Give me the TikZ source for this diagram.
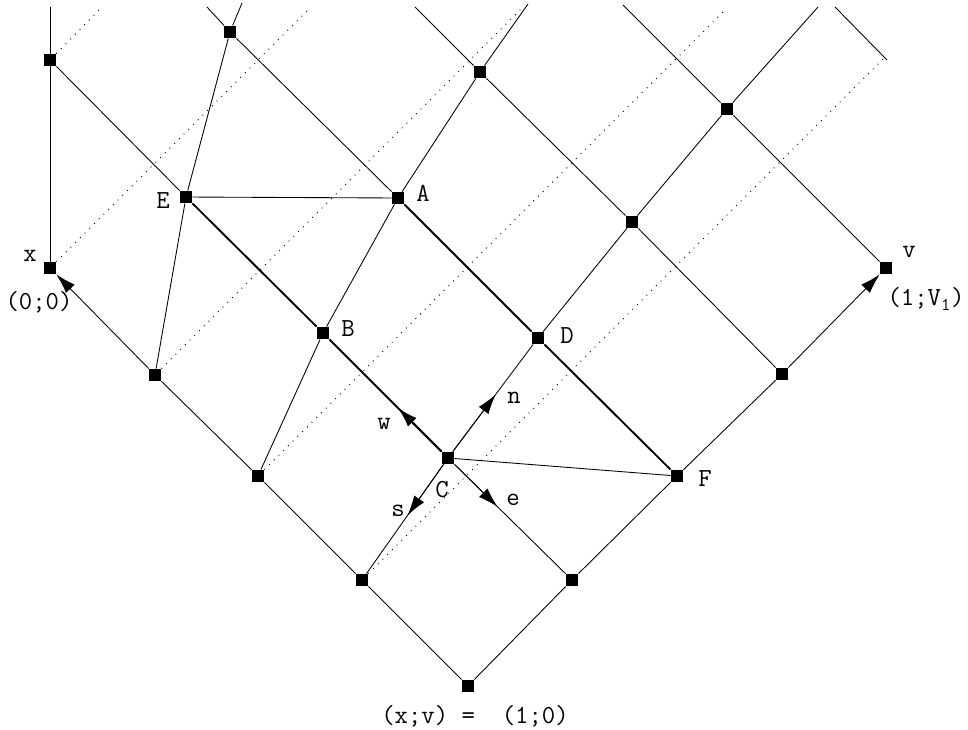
\documentclass[tikz,border=0pt]{standalone}
\usepackage{fontspec}
\usetikzlibrary{arrows.meta,calc}
\begin{document}
\begin{tikzpicture}[x=0.75pt,y=-0.75pt,line width=0.65pt,
  pt/.style={rectangle,fill=black,draw=none,inner sep=0pt,minimum size=9pt},
  lbl/.style={font=\ttfamily\fontsize{19.5}{22}\selectfont,inner sep=0pt},
  boldline/.style={line width=1.4pt},
  dotline/.style={line width=0.7pt,dash pattern=on 0.7pt off 4.3pt},
  arr/.style={-{Latex[length=15pt,width=9pt]}},
]
\useasboundingbox (0,0) rectangle (968,729);

% grid points
\node[pt] (b0) at (468,686) {};
\node[pt] (l1) at (362,580) {};
\node[pt] (l2) at (258,476) {};
\node[pt] (l3) at (155,375) {};
\node[pt] (X)  at (50,268) {};
\node[pt] (r1) at (572,580) {};
\node[pt] (F)  at (677,476) {};
\node[pt] (r3) at (782,374) {};
\node[pt] (V)  at (886,268) {};
\node[pt] (C)  at (448,458) {};
\node[pt] (B)  at (323,333) {};
\node[pt] (E)  at (186,197) {};
\node[pt] (X2) at (50,60) {};
\node[pt] (D)  at (538,338) {};
\node[pt] (A)  at (398,198) {};
\node[pt] (T1) at (230,32) {};
\node[pt] (G)  at (632,222) {};
\node[pt] (H)  at (480,72) {};
\node[pt] (K)  at (727,109) {};

% free ends at the top
\coordinate (xtop) at (50,7);
\coordinate (t1a) at (207,7);
\coordinate (t1b) at (242,3);
\coordinate (ha) at (415,7);
\coordinate (hb) at (528,4);
\coordinate (ka) at (623,5);
\coordinate (kb) at (818,7);
\coordinate (s6a) at (835,7);
\coordinate (s6b) at (887,60);
\coordinate (d1) at (102,7);
\coordinate (d2) at (308,10);
\coordinate (d3) at (521,9);
\coordinate (d4) at (725,10);
\coordinate (d5) at (884,58);

% dotted lines
\draw[dotline] (X2) -- (d1);
\draw[dotline] (X) -- (d2);
\draw[dotline] (l3) -- (d3);
\draw[dotline] (l2) -- (d4);
\draw[dotline] (l1) -- (d5);

% up-left lines
\draw (b0) -- (l1) -- (l2) -- (l3);
\draw[arr] (l3) -- (X);
\draw (r1) -- (C);
\draw[boldline] (C) -- (B) -- (E);
\draw (E) -- (X2);
\draw[boldline] (F) -- (D) -- (A);
\draw (A) -- (T1) -- (t1a);
\draw (r3) -- (G) -- (H) -- (ha);
\draw (V) -- (K) -- (ka);
\draw (s6a) -- (s6b);

% up-right lines
\draw (b0) -- (r1) -- (F) -- (r3);
\draw[arr] (r3) -- (V);
\draw (l1) -- (C) -- (D) -- (G) -- (K) -- (kb);
\draw (l2) -- (B) -- (A) -- (H) -- (hb);
\draw (l3) -- (E) -- (T1) -- (t1b);
\draw (X) -- (X2) -- (xtop);

% cross lines
\draw (E) -- (A);
\draw (C) -- (F);

% arrows at C
\draw[arr] (C) -- ($(C)!0.53!(D)$);
\draw[arr,boldline] (C) -- ($(C)!0.40!(B)$);
\draw[arr] (C) -- ($(C)!0.47!(l1)$);
\draw[arr] (C) -- ($(C)!0.40!(r1)$);

% labels
\node[lbl] (lx)  at (30,256) {x};
\node[lbl] (l00) at (39,302) {(0;0)};
\node[lbl] (lE)  at (163,201) {E};
\node[lbl] (lA)  at (423,193) {A};
\node[lbl] (lB)  at (348,329) {B};
\node[lbl] (lD)  at (567,336) {D};
\node[lbl] (lC)  at (442,490) {C};
\node[lbl] (lF)  at (705,479) {F};
\node[lbl] (ln)  at (514,398) {n};
\node[lbl] (lw)  at (384,424) {w};
\node[lbl] (ls)  at (398,511) {s};
\node[lbl] (le)  at (513,500) {e};
\node[lbl] (lv)  at (909,252) {v};
\node[lbl] (lV1) at (926,299) {(1;V\textsubscript{1})};
\node[lbl] (lbot) at (475,716) {(x;v) =\ \ (1;0)};
\end{tikzpicture}
\end{document}
